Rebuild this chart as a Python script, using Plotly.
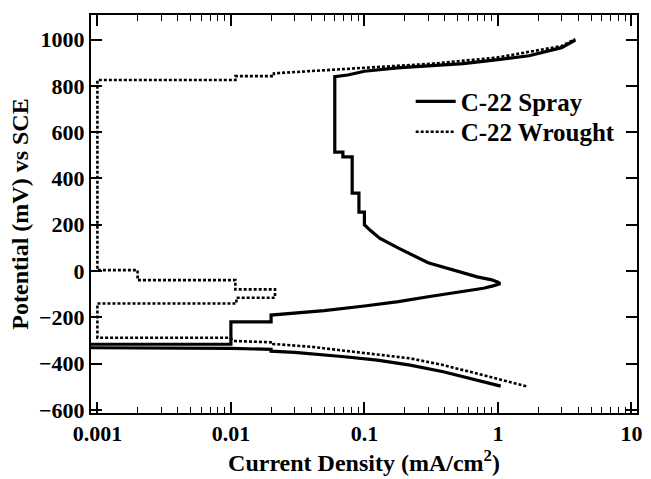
import plotly.graph_objects as go

# C-22 Spray (solid) – path order: cathodic branch up to Ecorr, then anodic branch
spray_i = [1.05, 0.69, 0.39, 0.22, 0.125, 0.071, 0.04, 0.03, 0.02, 0.02, 0.01, 0.0008,
           0.0008, 0.01, 0.01, 0.02, 0.02, 0.03, 0.05, 0.1, 0.18, 0.3, 0.55, 0.78, 0.92, 1.0, 1.04,
           1.0, 0.9, 0.7, 0.55, 0.3, 0.18, 0.13, 0.11, 0.1, 0.1, 0.091, 0.091, 0.081, 0.081,
           0.069, 0.069, 0.06, 0.06, 0.075, 0.1, 0.176, 0.3, 0.55, 1.0, 1.71, 3.0, 3.8]
spray_e = [-497, -471, -435, -406, -385, -370, -356, -351, -346, -338, -334, -331,
           -316, -316, -219, -219, -190, -183, -171, -151, -132, -111, -89, -74, -64, -59, -55,
           -48, -38, -25, -8, 36, 99, 142, 177, 200, 255, 255, 337, 337, 493,
           493, 514, 514, 840, 847, 863, 878, 886, 896, 913, 930, 965, 998]

# C-22 Wrought (dotted)
wrought_i = [1.63, 0.69, 0.39, 0.22, 0.125, 0.071, 0.04, 0.0208, 0.0208, 0.0105, 0.0098, 0.001,
             0.001, 0.011, 0.011, 0.0214, 0.0214, 0.0108, 0.0108, 0.002, 0.002, 0.001,
             0.001, 0.0108, 0.0108, 0.021, 0.021, 0.032, 0.1, 0.31, 0.98, 3.0, 3.8]
wrought_e = [-497, -442, -406, -377, -359, -344, -327, -315, -308, -302, -288, -288,
             -140, -140, -115, -115, -79, -79, -39, -39, 4, 4,
             825, 825, 842, 842, 854, 861, 878, 895, 922, 972, 1002]

x_tickvals = [0.001, 0.01, 0.1, 1, 10]
x_ticktext = ["0.001", "0.01", "0.1", "1", "10"]
y_tickvals = [-600, -400, -200, 0, 200, 400, 600, 800, 1000]

FONT = "Liberation Serif"
LEGFONT = dict(family=FONT, size=25, color="black", weight="bold")

fig = go.Figure()
fig.add_trace(go.Scatter(x=spray_i, y=spray_e, mode="lines", name="C-22 Spray",
                         line=dict(color="black", width=3.2), legend="legend"))
fig.add_trace(go.Scatter(x=wrought_i, y=wrought_e, mode="lines", name="C-22 Wrought",
                         line=dict(color="black", width=2.6, dash="3px,2px"), legend="legend2"))

fig.update_layout(
    width=651, height=479,
    margin=dict(l=91, r=9, t=15, b=66),
    paper_bgcolor="white", plot_bgcolor="white",
    font=dict(family=FONT, size=22, color="black"),
    showlegend=True,
    legend=dict(x=0.5855, y=0.84, xanchor="left", yanchor="top",
                bgcolor="rgba(0,0,0,0)", font=LEGFONT, itemwidth=40),
    legend2=dict(x=0.5855, y=0.764, xanchor="left", yanchor="top",
                 bgcolor="rgba(0,0,0,0)", font=LEGFONT, itemwidth=40),
)
fig.update_xaxes(
    type="log", range=[-3.048, 1.042],
    tickmode="array", tickvals=x_tickvals, ticktext=x_ticktext,
    ticks="inside", ticklen=11, tickwidth=1.5, tickcolor="black",
    minor=dict(dtick="D1", ticks="inside", ticklen=6, tickwidth=1.2, tickcolor="black", showgrid=False),
    showline=True, linecolor="black", linewidth=2, mirror="ticks",
    showgrid=False, zeroline=False,
    tickfont=dict(family=FONT, size=22, weight="bold"),
    title=dict(text="Current Density (mA/cm<sup>2</sup>)", standoff=2,
               font=dict(family=FONT, size=24, weight="bold")),
)
fig.update_yaxes(
    range=[-613, 1106], tickmode="array", tickvals=y_tickvals,
    ticks="inside", ticklen=11, tickwidth=1.5, tickcolor="black",
    showline=True, linecolor="black", linewidth=2, mirror="ticks",
    showgrid=False, zeroline=False,
    tickfont=dict(family=FONT, size=22, weight="bold"),
    title=dict(text="Potential (mV) vs SCE", standoff=4,
               font=dict(family=FONT, size=24, weight="bold")),
)

fig.write_html("out.html")
